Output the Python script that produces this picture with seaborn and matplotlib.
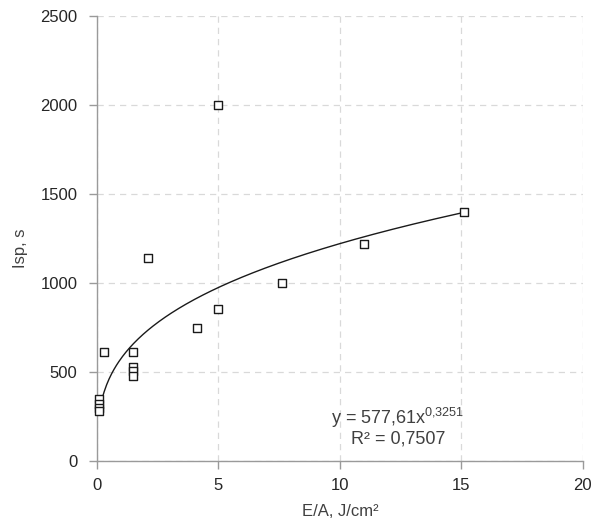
import numpy as np
import pandas as pd
import matplotlib
matplotlib.use("Agg")
import matplotlib.pyplot as plt
import seaborn as sns

# Specific impulse vs. laser fluence measurements
fluence = [0.1, 0.1, 0.1, 0.1, 0.3, 1.5, 1.5, 1.5, 1.5, 2.1, 4.1, 5.0, 5.0, 7.6, 11.0, 15.1]
isp = [350, 320, 300, 280, 610, 610, 530, 505, 480, 1140, 750, 855, 2000, 1000, 1220, 1400]

# Power-law fit y = a * x^b
fit_a = 577.61
fit_b = 0.3251
fit_r2 = 0.7507

x_ticks = [0, 5, 10, 15, 20]
y_ticks = [0, 500, 1000, 1500, 2000, 2500]

sns.set_theme(style="white")
plt.rcParams["font.family"] = ["Liberation Sans", "DejaVu Sans"]
plt.rcParams["mathtext.fontset"] = "custom"
plt.rcParams["mathtext.rm"] = "Liberation Sans"

df = pd.DataFrame({"E/A": fluence, "Isp": isp})
xs = np.linspace(min(fluence), max(fluence), 300)
trend = pd.DataFrame({"E/A": xs, "Isp": fit_a * xs ** fit_b})

fig = plt.figure(figsize=(6.02, 5.27), dpi=100)
ax = fig.add_axes([0.161, 0.125, 0.807, 0.845])

sns.lineplot(data=trend, x="E/A", y="Isp", ax=ax, color="#1a1a1a", linewidth=1.0, zorder=2)
sns.scatterplot(data=df, x="E/A", y="Isp", ax=ax, marker="s", s=36,
                facecolor="white", edgecolor="#1a1a1a", linewidth=1.0, zorder=3,
                clip_on=False)

ax.set_xlim(0, 20)
ax.set_ylim(0, 2500)
ax.set_xticks(x_ticks)
ax.set_yticks(y_ticks)

ax.grid(True, color="#d9d9d9", linestyle=(0, (5, 4)), linewidth=0.9)
ax.set_axisbelow(True)
for side in ["top", "right"]:
    ax.spines[side].set_visible(False)
for side in ["left", "bottom"]:
    ax.spines[side].set_color("#9a9a9a")
    ax.spines[side].set_linewidth(1.0)

ax.tick_params(axis="both", which="major", direction="out", length=6, width=1,
               color="#9a9a9a", labelsize=12, labelcolor="#262626",
               bottom=True, left=True)
ax.tick_params(axis="y", pad=8)
ax.tick_params(axis="x", pad=6)

ax.set_xlabel("E/A, J/cm²", fontsize=12, color="#404040", labelpad=8)
ax.set_ylabel("Isp, s", fontsize=12, color="#404040")
ax.yaxis.set_label_coords(-0.142, 0.479)

ax.text(12.4, 208, "y = 577,61x$^{\\mathregular{0{,}3251}}$", ha="center", va="baseline",
        fontsize=13, color="#404040")
ax.text(12.4, 97, f"R² = {fit_r2:.4f}".replace(".", ","), ha="center", va="baseline",
        fontsize=13, color="#404040")

fig.savefig("out.png", dpi=100)
